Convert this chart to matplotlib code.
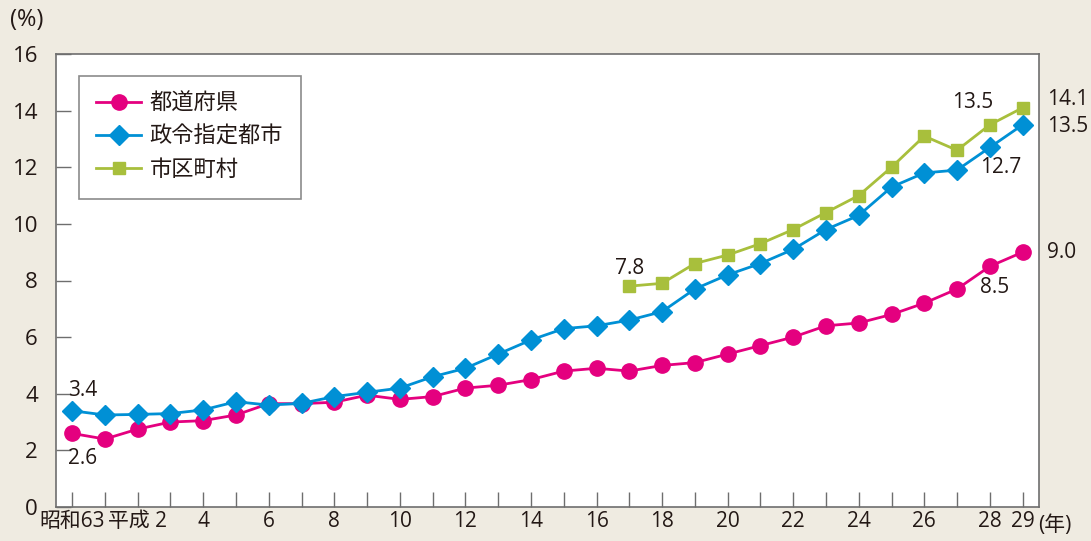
import numpy as np
import matplotlib
matplotlib.use("Agg")
import matplotlib.pyplot as plt

plt.rcParams['font.family'] = ['Open Sans', 'Noto Sans CJK JP', 'DejaVu Sans']

# Data (昭和63 .. 平成29)
years = list(range(30))  # 0 = 昭和63, 1 = 平成元, ..., 29 = 平成29
tick_pos = [0, 2, 4, 6, 8, 10, 12, 14, 16, 18, 20, 22, 24, 26, 28, 29]
tick_labels = ["昭和63", "平成 2", "4", "6", "8", "10", "12", "14", "16",
               "18", "20", "22", "24", "26", "28", "29"]

pref = [2.6, 2.4, 2.75, 3.0, 3.05, 3.25, 3.65, 3.65, 3.7, 3.95,
        3.8, 3.9, 4.2, 4.3, 4.5, 4.8, 4.9, 4.8, 5.0, 5.1,
        5.4, 5.7, 6.0, 6.4, 6.5, 6.8, 7.2, 7.7, 8.5, 9.0]
city = [3.4, 3.25, 3.27, 3.3, 3.43, 3.72, 3.6, 3.66, 3.9, 4.05,
        4.2, 4.6, 4.9, 5.4, 5.9, 6.3, 6.4, 6.6, 6.9, 7.7,
        8.2, 8.6, 9.1, 9.8, 10.3, 11.3, 11.8, 11.9, 12.7, 13.5]
muni_years = list(range(17, 30))
muni = [7.8, 7.9, 8.6, 8.9, 9.3, 9.8, 10.4, 11.0, 12.0, 13.1, 12.6, 13.5, 14.1]

series_names = ["都道府県", "政令指定都市", "市区町村"]

pink = "#E4007F"
blue = "#0090D5"
green = "#A8BF3C"
bg = "#EFEBE1"
txt = "#231815"
spine = "#6E6E6E"

fig = plt.figure(figsize=(10.91, 5.41), dpi=100, facecolor=bg)
ax = fig.add_axes([56 / 1091, 1 - 507 / 541, (1039 - 56) / 1091, (507 - 54) / 541])
ax.set_facecolor("white")

ax.plot(years, pref, color=pink, lw=2, marker="o", ms=11, label=series_names[0], zorder=3)
ax.plot(years, city, color=blue, lw=2, marker="D", ms=10, label=series_names[1], zorder=4)
ax.plot(muni_years, muni, color=green, lw=2, marker="s", ms=9, label=series_names[2], zorder=5)

ax.set_xlim(-0.49, 29.5)
ax.set_ylim(0, 16)
ax.set_yticks(range(0, 17, 2))
ax.set_yticklabels([str(v) for v in range(0, 17, 2)], fontsize=16, color=txt)
ax.set_xticks(tick_pos)
ax.set_xticklabels(tick_labels, fontsize=15, color=txt)
ax.set_xticks(years, minor=True)
ax.tick_params(axis="y", direction="in", length=11, width=1, color=spine, pad=13)
ax.tick_params(axis="x", which="both", direction="in", length=11, width=1, color=spine, pad=3)
for s in ax.spines.values():
    s.set_color(spine)
    s.set_linewidth(1.2)

# value labels
lab = dict(fontsize=15, color=txt, va="center")
ax.text(-0.12, 4.13, "3.4", ha="left", **lab)
ax.text(-0.12, 1.73, "2.6", ha="left", **lab)
ax.text(muni_years[0], 8.41, "7.8", ha="center", **lab)
ax.text(28.1, 14.27, "13.5", ha="right", **lab)
ax.text(27.7, 11.98, "12.7", ha="left", **lab)
ax.text(27.7, 7.74, "8.5", ha="left", **lab)
ax.text(29.75, 14.38, "14.1", ha="left", clip_on=False, **lab)
ax.text(29.75, 13.44, "13.5", ha="left", clip_on=False, **lab)
ax.text(29.75, 8.99, "9.0", ha="left", clip_on=False, **lab)

fig.text(10 / 1091, 1 - 20 / 541, "(%)", fontsize=17, color=txt, ha="left", va="center")
fig.text(1038 / 1091, 1 - 525 / 541, "(年)", fontsize=15, color=txt, ha="left", va="center")

leg = ax.legend(loc="upper left", bbox_to_anchor=(0.023, 0.952), fontsize=16,
                frameon=True, fancybox=False, edgecolor=spine, handlelength=2.0,
                borderpad=0.8, labelspacing=0.55, handletextpad=0.4, borderaxespad=0)
leg.get_frame().set_linewidth(1.2)
for t in leg.get_texts():
    t.set_color(txt)

fig.savefig("out.png", dpi=100, facecolor=bg)
